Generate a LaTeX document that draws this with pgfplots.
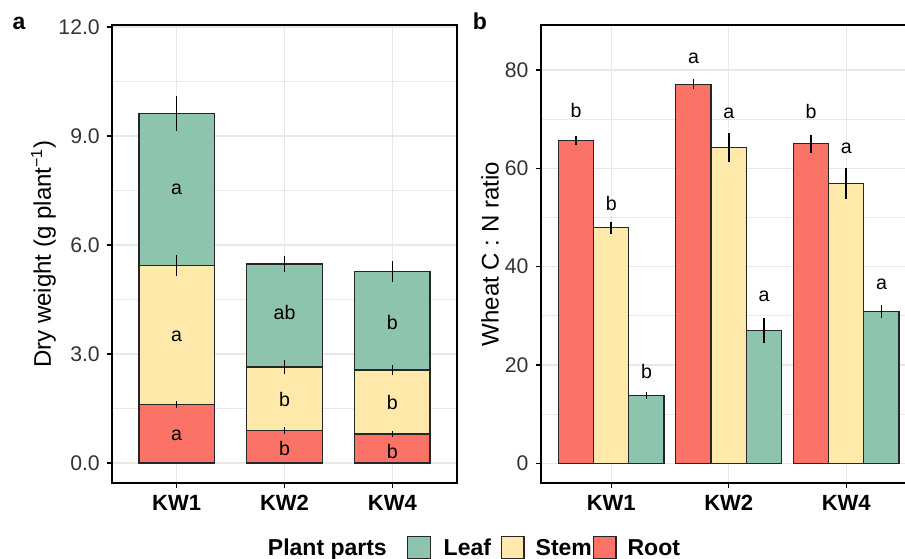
\documentclass[border=0pt]{standalone}
\usepackage{pgfplots}
\pgfplotsset{compat=1.18}
\usepackage{fontspec}
\setmainfont{Liberation Sans}
\definecolor{rootc}{RGB}{250,115,102}
\definecolor{stemc}{RGB}{255,233,170}
\definecolor{leafc}{RGB}{140,196,174}
\definecolor{gridc}{RGB}{232,232,232}
\pgfplotsset{
  common/.style={
    scale only axis, height=229pt, anchor=south west,
    xmin=-0.6, xmax=2.6, xtick={0,1,2}, xticklabels={KW1,KW2,KW4},
    axis line style={black, line width=0.9pt},
    tick align=outside, tick pos=left,
    major tick length=2.6pt, minor tick length=0pt,
    tick style={black, line width=0.6pt},
    xmajorgrids, ymajorgrids, yminorgrids, minor y tick num=1,
    major grid style={gridc, line width=0.7pt},
    minor grid style={gridc, line width=0.4pt},
    xticklabel style={font=\fontsize{11}{12}\selectfont\bfseries},
    yticklabel style={font=\fontsize{10.6}{12}\selectfont, text=black!80},
    /pgf/number format/assume math mode=true,
    label style={font=\fontsize{12}{14}\selectfont},
  },
  barst/.style={draw=black!85, line width=0.65pt},
  ebar/.style={draw=none, error bars/.cd, y dir=both, y explicit, error mark=none,
    error bar style={draw=black, line width=0.8pt}},
  lett/.style={draw=none, nodes near coords, point meta=explicit symbolic,
    every node near coord/.append style={anchor=center, inner sep=0pt, font=\fontsize{9.8}{11}\selectfont, text=black}},
}
\begin{document}
\begin{tikzpicture}
\path[use as bounding box] (0,0) rectangle (452.5pt,279pt);
\clip (0,0) rectangle (452.5pt,279pt);
% ---------------- panel a ----------------
\begin{axis}[common, at={(56pt,37.5pt)}, width=172.5pt,
  ybar stacked, bar width=0.7,
  ymin=-0.55, ymax=12.055, ytick={0,3,6,9,12},
  yticklabel style={/pgf/number format/.cd, fixed, fixed zerofill, precision=1},
  ylabel={Dry weight (g plant\textsuperscript{−1})},
  ylabel style={at={(axis description cs:-0.1985,0.5)}, anchor=center},
  legend columns=-1,
  legend style={at={(axis description cs:0.452,-0.1426)}, anchor=west, draw=none, fill=none,
    inner sep=0pt, outer sep=0pt, /tikz/column sep=0pt,
    nodes={inner sep=0pt, text height=8.4pt, text depth=2.4pt, font=\fontsize{11.5}{12}\selectfont\bfseries}},
]
\addplot[barst, fill=rootc, forget plot] coordinates {(0,1.62) (1,0.90) (2,0.80)};
\addplot[barst, fill=stemc, forget plot] coordinates {(0,3.81) (1,1.74) (2,1.76)};
\addplot[barst, fill=leafc, forget plot] coordinates {(0,4.19) (1,2.84) (2,2.72)};
\addlegendimage{empty legend}
\addlegendentry{Plant parts\kern10.1pt}
\addlegendimage{legend image code/.code={\draw[fill=leafc, draw=black!85, line width=0.6pt] (0pt,-4.6pt) rectangle (11.25pt,6.6pt);}}
\addlegendentry{\kern6.5pt Leaf\kern5pt}
\addlegendimage{legend image code/.code={\draw[fill=stemc, draw=black!85, line width=0.6pt] (0pt,-4.6pt) rectangle (11.25pt,6.6pt);}}
\addlegendentry{\kern5.5pt Stem\kern0.5pt}
\addlegendimage{legend image code/.code={\draw[fill=rootc, draw=black!85, line width=0.6pt] (0pt,-4.6pt) rectangle (11.25pt,6.6pt);}}
\addlegendentry{\kern5.5pt Root}
\end{axis}
\begin{axis}[common, at={(56pt,37.5pt)}, width=172.5pt, hide axis,
  ymin=-0.55, ymax=12.055]
\addplot[ebar] coordinates {(0,9.62) +- (0,0.48) (1,5.48) +- (0,0.23) (2,5.28) +- (0,0.29)};
\addplot[ebar] coordinates {(0,5.43) +- (0,0.29) (1,2.64) +- (0,0.20) (2,2.56) +- (0,0.14)};
\addplot[ebar] coordinates {(0,1.62) +- (0,0.10) (1,0.90) +- (0,0.09) (2,0.80) +- (0,0.09)};
\addplot[lett] coordinates {(0,7.53) [a] (0,3.50) [a] (0,0.75) [a]
  (1,4.14) [ab] (1,1.75) [b] (1,0.40) [b] (2,3.86) [b] (2,1.66) [b] (2,0.33) [b]};
\end{axis}
% ---------------- panel b ----------------
\begin{axis}[common, at={(270.35pt,37.5pt)}, width=188pt,
  bar width=0.3,
  ymin=-4.0, ymax=89.15, ytick={0,20,40,60,80},
  ylabel={Wheat C : N ratio},
  ylabel style={at={(axis description cs:-0.1345,0.5)}, anchor=center},
]
\addplot[ybar, bar shift=0pt, barst, fill=rootc, error bars/.cd, y dir=both, y explicit, error mark=none,
    error bar style={draw=black, line width=0.8pt}]
  coordinates {(-0.3,65.6) +- (0,0.9) (0.7,77.1) +- (0,1.0) (1.7,65.0) +- (0,1.8)};
\addplot[ybar, bar shift=0pt, barst, fill=stemc, error bars/.cd, y dir=both, y explicit, error mark=none,
    error bar style={draw=black, line width=0.8pt}]
  coordinates {(0,47.9) +- (0,1.2) (1,64.3) +- (0,2.95) (2,56.9) +- (0,3.2)};
\addplot[ybar, bar shift=0pt, barst, fill=leafc, error bars/.cd, y dir=both, y explicit, error mark=none,
    error bar style={draw=black, line width=0.8pt}]
  coordinates {(0.3,13.8) +- (0,0.75) (1.3,27.0) +- (0,2.55) (2.3,30.9) +- (0,1.3)};
\addplot[lett] coordinates {(-0.3,71.7) [b] (0,52.9) [b] (0.3,18.6) [b]
  (0.7,82.4) [a] (1,71.2) [a] (1.3,33.9) [a] (1.7,71.5) [b] (2,64.1) [a] (2.3,36.5) [a]};
\end{axis}
\node[anchor=base, font=\fontsize{11.5}{12}\selectfont\bfseries] at (9.5pt,264pt) {a};
\node[anchor=base, font=\fontsize{11.5}{12}\selectfont\bfseries] at (240pt,264pt) {b};
\end{tikzpicture}
\end{document}
